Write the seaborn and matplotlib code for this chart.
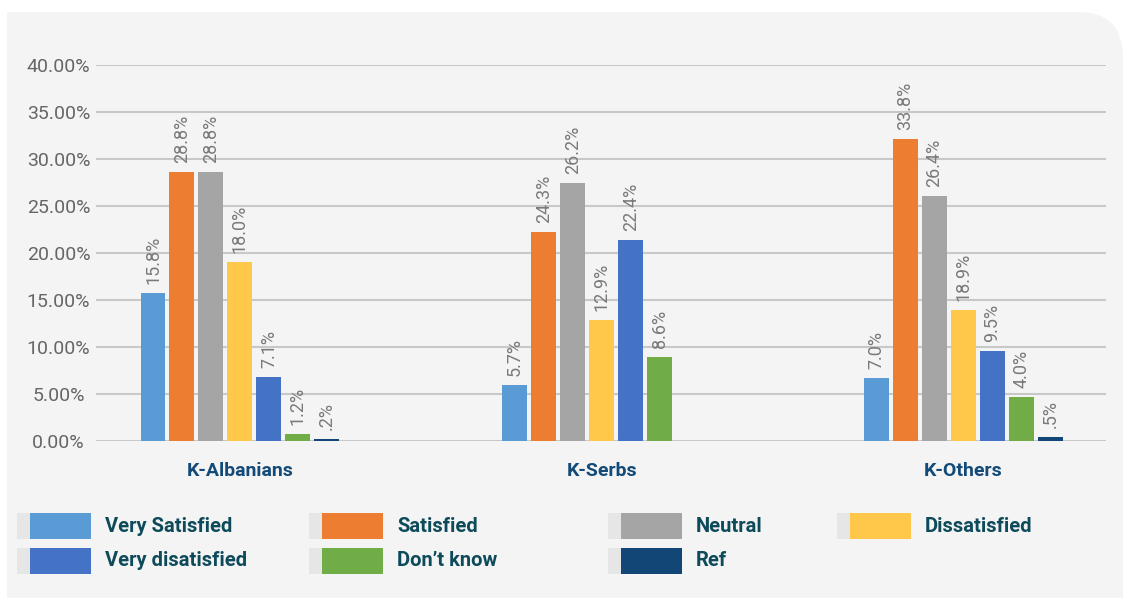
import matplotlib

matplotlib.use("Agg")
import matplotlib.pyplot as plt
import pandas as pd
import seaborn as sns
from matplotlib.patches import FancyBboxPatch, Rectangle
from matplotlib.ticker import FuncFormatter

groups = ["K-Albanians", "K-Serbs", "K-Others"]
responses = ["Very Satisfied", "Satisfied", "Neutral", "Dissatisfied",
             "Very disatisfied", "Don\u2019t know", "Ref"]
colors = ["#5b9bd5", "#ed7d31", "#a5a5a5", "#ffc84a", "#4472c4", "#70ad47", "#124677"]

# bar heights as drawn (%)
albanians = [15.7, 28.6, 28.6, 19.0, 6.8, 0.75, 0.2]
serbs = [5.9, 22.2, 27.4, 12.8, 21.4, 8.9, 0.0]
others = [6.7, 32.1, 26.0, 13.9, 9.6, 4.7, 0.4]

# printed data labels
albanians_lbl = ["15.8%", "28.8%", "28.8%", "18.0%", "7.1%", "1.2%", ".2%"]
serbs_lbl = ["5.7%", "24.3%", "26.2%", "12.9%", "22.4%", "8.6%", ""]
others_lbl = ["7.0%", "33.8%", "26.4%", "18.9%", "9.5%", "4.0%", ".5%"]

y_ticks = [0, 5, 10, 15, 20, 25, 30, 35, 40]

W, H = 1123, 598
PANEL = "#f4f4f4"
TEXT_DARK = "#0d4a5a"


def fx(px):
    return px / W


def fy(py):
    return 1 - py / H


rows = []
for g, vals in zip(groups, [albanians, serbs, others]):
    for r, v in zip(responses, vals):
        rows.append({"group": g, "response": r, "value": v})
df = pd.DataFrame(rows)
labels = {r: [a, s, o] for r, a, s, o in zip(responses, albanians_lbl, serbs_lbl, others_lbl)}

sns.set_style("white")
plt.rcParams["font.family"] = ["Roboto", "DejaVu Sans"]

fig = plt.figure(figsize=(W / 100, H / 100), dpi=100)
fig.patch.set_facecolor("white")

# light panel with rounded top-right corner
fig.add_artist(Rectangle((fx(7), -0.1), fx(1000) - fx(7), fy(12) + 0.1,
                         transform=fig.transFigure, fc=PANEL, ec="none", zorder=-2))
fig.add_artist(FancyBboxPatch((9.0, -1.0), 11.23 - 9.0, 5.86 + 1.0,
                              boxstyle="round,pad=0,rounding_size=0.45",
                              transform=fig.dpi_scale_trans, fc=PANEL, ec="none", zorder=-2))

ax = fig.add_axes([fx(96), fy(440.7), fx(1106) - fx(96), fy(65) - fy(440.7)])
ax.set_facecolor("none")

sns.barplot(data=df, x="group", y="value", hue="response", hue_order=responses,
            order=groups, palette=colors, saturation=1, width=0.561, gap=0.138,
            linewidth=0, legend=False, ax=ax)

for cont, r in zip(ax.containers, responses):
    ax.bar_label(cont, labels=labels[r], rotation=90, padding=6.5,
                 fontsize=13, color="#7a7a7a")

ax.set_ylim(0, 40)
ax.set_xlim(-0.398, 2.394)
ax.set_yticks(y_ticks)
ax.yaxis.set_major_formatter(FuncFormatter(lambda v, _: f"{v:.2f}%"))
ax.grid(axis="y", color="#c8c8c8", linewidth=1.5)
ax.set_axisbelow(True)
for s in ax.spines.values():
    s.set_visible(False)
ax.tick_params(axis="y", length=0, pad=27, labelsize=14, labelcolor="#666666")
ax.tick_params(axis="x", length=0, pad=15, labelsize=14, labelcolor="#134a78")
for t in ax.get_yticklabels():
    t.set_ha("center")
for t in ax.get_xticklabels():
    t.set_fontweight("bold")
ax.set_xlabel("")
ax.set_ylabel("")

# legend drawn as a grid of swatches
legend_x = [17, 309, 608, 837]
legend_y = [526, 561]
for i, (r, c) in enumerate(zip(responses, colors)):
    x0 = legend_x[i % 4]
    yc = legend_y[i // 4]
    fig.add_artist(Rectangle((fx(x0), fy(yc + 13)), fx(13), 26 / H,
                             transform=fig.transFigure, fc="#e6e6e6", ec="none"))
    fig.add_artist(Rectangle((fx(x0 + 13), fy(yc + 13)), fx(61), 26 / H,
                             transform=fig.transFigure, fc=c, ec="none"))
    fig.text(fx(x0 + 88), fy(yc), r, ha="left", va="center", fontsize=14.5,
             fontweight="bold", color=TEXT_DARK)

fig.savefig("out.png", dpi=100, facecolor=fig.get_facecolor())
